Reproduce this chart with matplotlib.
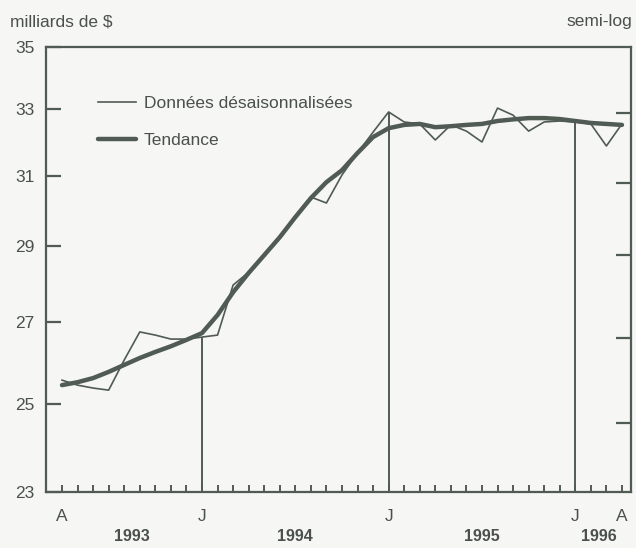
import numpy as np
import matplotlib
matplotlib.use("Agg")
import matplotlib.pyplot as plt
from matplotlib.ticker import FixedLocator, NullLocator, NullFormatter

# monthly, April 1993 .. April 1996 (billions of $)
months = np.arange(37)
raw = [25.56, 25.44, 25.37, 25.32, 26.05, 26.75, 26.67, 26.57, 26.57, 26.62,
       26.67, 27.96, 28.30, 28.76, 29.28, 29.84, 30.38, 30.21, 31.02, 31.67,
       32.30, 32.92, 32.61, 32.55, 32.06, 32.52, 32.33, 32.00, 33.04, 32.82,
       32.33, 32.61, 32.64, 32.61, 32.55, 31.88, 32.55]
trend = [25.44, 25.51, 25.61, 25.76, 25.93, 26.10, 26.25, 26.39, 26.55, 26.72,
         27.18, 27.77, 28.28, 28.76, 29.25, 29.81, 30.35, 30.81, 31.16, 31.67,
         32.15, 32.42, 32.52, 32.55, 32.45, 32.48, 32.52, 32.55, 32.64, 32.69,
         32.73, 32.73, 32.70, 32.64, 32.58, 32.55, 32.52]

yticks = [23, 25, 27, 29, 31, 33, 35]
right_ticks = [32.9, 30.8, 28.75, 26.6, 24.55]
month_labels = [(0, "A"), (9, "J"), (21, "J"), (33, "J"), (36, "A")]
year_labels = [(4.5, "1993"), (15, "1994"), (27, "1995"), (34.5, "1996")]
jan_idx = [9, 21, 33]

ink = "#505b54"
txt = "#4a504c"
bg = "#f6f6f4"

plt.rcParams['font.family'] = ['Liberation Sans', 'DejaVu Sans']

fig = plt.figure(figsize=(6.36, 5.48), dpi=100, facecolor=bg)
ax = fig.add_axes([0.0723, 0.1022, 0.9198, 0.812], facecolor=bg)

ax.set_yscale('log')
ax.set_ylim(23, 35)
ax.set_xlim(-1.03, 36.58)

# january markers
for i in jan_idx:
    ax.plot([i, i], [23, raw[i]], color=ink, lw=1.4, solid_capstyle='butt')

ax.plot(months, raw, color=ink, lw=1.2, label="Données désaisonnalisées")
ax.plot(months, trend, color=ink, lw=3.2, label="Tendance", solid_capstyle='round')

for s in ax.spines.values():
    s.set_color(ink)
    s.set_linewidth(1.6)

ax.yaxis.set_major_locator(FixedLocator(yticks))
ax.yaxis.set_minor_locator(NullLocator())
ax.yaxis.set_minor_formatter(NullFormatter())
ax.set_yticklabels([str(v) for v in yticks])
ax.tick_params(axis='y', direction='in', length=11, width=1.6, color=ink,
               labelsize=12.5, labelcolor=txt, pad=8)

ax.xaxis.set_major_locator(FixedLocator(months))
ax.set_xticklabels([])
ax.tick_params(axis='x', direction='in', length=5, width=1.4, color=ink)

# right-hand ticks
ax2 = ax.twinx()
ax2.set_yscale('log')
ax2.set_ylim(23, 35)
ax2.yaxis.set_major_locator(FixedLocator(right_ticks))
ax2.yaxis.set_minor_locator(NullLocator())
ax2.yaxis.set_major_formatter(NullFormatter())
ax2.yaxis.set_minor_formatter(NullFormatter())
ax2.tick_params(axis='y', direction='in', length=11, width=1.6, color=ink)
for s in ax2.spines.values():
    s.set_visible(False)

for pos, lab in month_labels:
    ax.text(pos, -0.038, lab, transform=ax.get_xaxis_transform(),
            ha='center', va='top', fontsize=12.5, color=txt)
for pos, lab in year_labels:
    ax.text(pos, -0.1, lab, transform=ax.get_xaxis_transform(),
            ha='center', va='center', fontsize=11.5, color=txt, fontweight='bold')

fig.text(10 / 636, 1 - 26 / 548, "milliards de $", fontsize=12.5, color=txt,
         ha='left', va='baseline')
fig.text(632 / 636, 1 - 26 / 548, "semi-log", fontsize=12.5, color=txt,
         ha='right', va='baseline')

leg = ax.legend(loc='upper left', bbox_to_anchor=(0.077, 0.905), frameon=False,
                fontsize=12.5, handlelength=2.2, handletextpad=0.45,
                labelspacing=1.25, borderaxespad=0)
for t in leg.get_texts():
    t.set_color(txt)

fig.savefig("out.png", dpi=100, facecolor=bg)
